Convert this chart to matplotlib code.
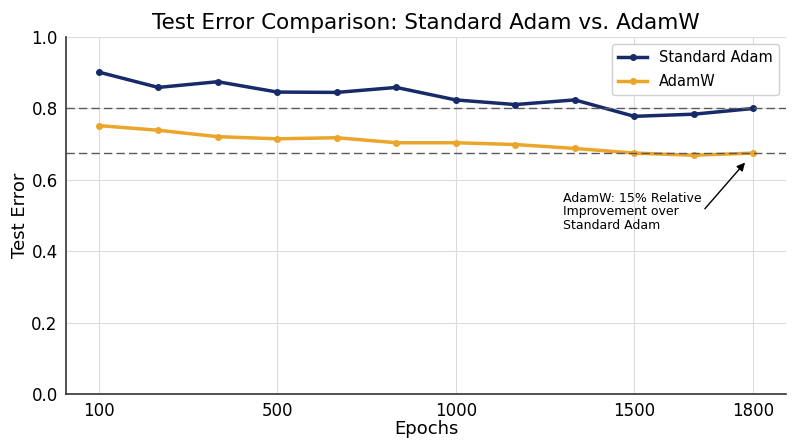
import matplotlib
matplotlib.use('Agg')
import matplotlib.pyplot as plt
import numpy as np

# values
epoch_labels = ['100', '500', '1000', '1500', '1800']
label_idx = [0, 3, 6, 9, 11]
adam_err = [0.902, 0.859, 0.875, 0.846, 0.845, 0.859,
            0.824, 0.811, 0.824, 0.778, 0.784, 0.800]
adamw_err = [0.752, 0.739, 0.721, 0.715, 0.718, 0.704,
             0.704, 0.699, 0.688, 0.675, 0.669, 0.675]

NAVY = '#172a6a'
GOLD = '#eba52b'


def main():
    fig, ax = plt.subplots(figsize=(8, 4.47), dpi=100)
    fig.subplots_adjust(left=0.0825, right=0.9825, top=0.917, bottom=0.1186)

    x = np.arange(len(adam_err))
    ax.plot(x, adam_err, color=NAVY, lw=2.5, marker='o', ms=4,
            label='Standard Adam')
    ax.plot(x, adamw_err, color=GOLD, lw=2.5, marker='o', ms=4,
            label='AdamW')

    ax.axhline(adam_err[-1], color='#5a5a5a', ls='--', lw=1, dashes=(6, 3))
    ax.axhline(adamw_err[-1], color='#5a5a5a', ls='--', lw=1, dashes=(6, 3))

    ax.annotate('AdamW: 15% Relative\nImprovement over\nStandard Adam',
                xy=(x[-1], adamw_err[-1]), xytext=(7.81, 0.51),
                ha='left', va='center', fontsize=9, linespacing=1.05,
                arrowprops=dict(arrowstyle='-|>', color='black', lw=1,
                                relpos=(1, 0.5), shrinkA=0, shrinkB=9,
                                mutation_scale=12))

    ax.set_ylim(0, 1.0)
    ax.set_yticks(np.arange(0, 1.01, 0.2))
    ax.set_xticks([x[i] for i in label_idx])
    ax.set_xticklabels(epoch_labels)
    ax.tick_params(length=0, labelsize=12, pad=6)

    ax.grid(True, color='#dcdcdc', lw=0.8)
    ax.set_axisbelow(True)
    for s in ['top', 'right']:
        ax.spines[s].set_visible(False)
    for s in ['left', 'bottom']:
        ax.spines[s].set_color('#333333')
        ax.spines[s].set_linewidth(1.2)

    ax.set_title('Test Error Comparison: Standard Adam vs. AdamW',
                 fontsize=15.5, pad=6)
    ax.set_xlabel('Epochs', fontsize=13, labelpad=0)
    ax.set_ylabel('Test Error', fontsize=13, labelpad=2)
    ax.legend(loc='upper right', fontsize=10.5, framealpha=1,
              edgecolor='#d0d0d0', labelspacing=0.6)

    fig.savefig('out.png', dpi=100)


if __name__ == '__main__':
    main()
